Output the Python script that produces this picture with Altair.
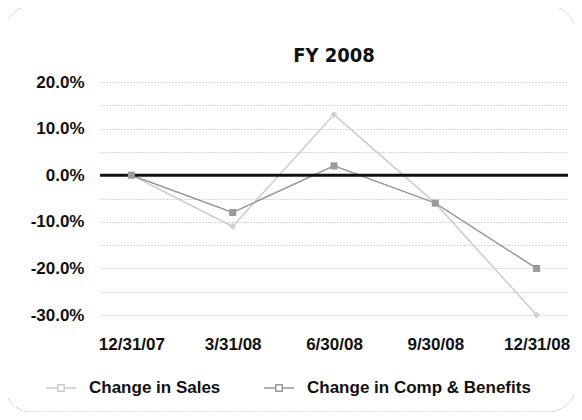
import altair as alt
import pandas as pd

dates = ["12/31/07", "3/31/08", "6/30/08", "9/30/08", "12/31/08"]
sales = [0.0, -11.0, 13.0, -6.0, -30.0]
comp = [0.0, -8.0, 2.0, -6.0, -20.0]
series = ["Change in Sales", "Change in Comp & Benefits"]
y_ticks = [-30, -25, -20, -15, -10, -5, 0, 5, 10, 15, 20]
zero_level = [0.0]
title_text = ["FY 2008"]

rows = []
for d, s, c in zip(dates, sales, comp):
    rows.append({"date": d, "series": series[0], "value": s})
    rows.append({"date": d, "series": series[1], "value": c})
df = pd.DataFrame(rows)

FONT = "Liberation Sans"

x_enc = alt.X("date:N", sort=dates, scale=alt.Scale(type="point", padding=0.31),
              axis=alt.Axis(title=None, labelAngle=0, labelFont=FONT, labelFontWeight="bold",
                            labelFontSize=17, labelColor="#111", labelPadding=21,
                            ticks=False, domain=False, grid=False))
y_enc = alt.Y("value:Q", scale=alt.Scale(domain=[-30, 20], nice=False),
              axis=alt.Axis(title=None, values=y_ticks,
                            labelExpr="datum.value % 10 == 0 ? datum.value + '.0%' : ''",
                            labelFont=FONT, labelFontWeight="bold", labelFontSize=17,
                            labelColor="#111", labelPadding=16, ticks=False, domain=False,
                            grid=True, gridColor="#b0b0b0", gridDash=[1, 2], gridWidth=1))

color = alt.Color("series:N", scale=alt.Scale(domain=series, range=["#cccccc", "#999999"]),
                  legend=alt.Legend(title=None, orient="none", legendX=-55, legendY=290,
                                    direction="horizontal", labelFont=FONT,
                                    labelFontWeight="bold", labelFontSize=17,
                                    labelColor="#111", labelLimit=400,
                                    symbolType="M-1,0L-0.22,0M0.22,0L1,0M-0.22,-0.22L0.22,-0.22L0.22,0.22L-0.22,0.22Z",
                                    symbolSize=900, symbolStrokeWidth=1.5,
                                    columnPadding=40, labelOffset=12))

base = alt.Chart(df)

lines = base.mark_line(strokeWidth=1.5).encode(x=x_enc, y=y_enc, color=color)

pts_sales = base.transform_filter(alt.datum.series == series[0]).mark_point(
    shape="diamond", filled=True, size=45, color="#cfcfcf", opacity=1
).encode(x=x_enc, y=y_enc)

pts_comp = base.transform_filter(alt.datum.series == series[1]).mark_point(
    shape="square", filled=True, size=50, color="#9a9a9a", opacity=1
).encode(x=x_enc, y=y_enc)

zero = alt.Chart(pd.DataFrame({"value": zero_level})).mark_rule(
    color="#111", strokeWidth=3).encode(y=y_enc)

border = alt.Chart(pd.DataFrame({"a": [0]})).mark_rect(
    fill=None, stroke="#c8c8c8", strokeWidth=1, strokeDash=[2, 1], cornerRadius=28
).encode(x=alt.value(-96), x2=alt.value(476), y=alt.value(-76), y2=alt.value(330))

title = alt.Chart(pd.DataFrame({"t": title_text})).mark_text(
    font="DejaVu Sans Condensed", fontWeight="bold",
    fontSize=20, color="#111", align="center", baseline="alphabetic"
).encode(text="t:N", x=alt.value(234), y=alt.value(-20))

chart = alt.layer(border, lines, zero, pts_sales, pts_comp, title).properties(
    width=468, height=233,
    autosize=alt.AutoSizeParams(type="none"),
    padding={"left": 92, "top": 74, "right": 6, "bottom": 97},
).configure(background="white").configure_view(
    stroke="transparent", strokeWidth=0
).configure_axis(domain=False, ticks=False)

chart.save("out.html", embed_options={"renderer": "svg", "actions": False})
